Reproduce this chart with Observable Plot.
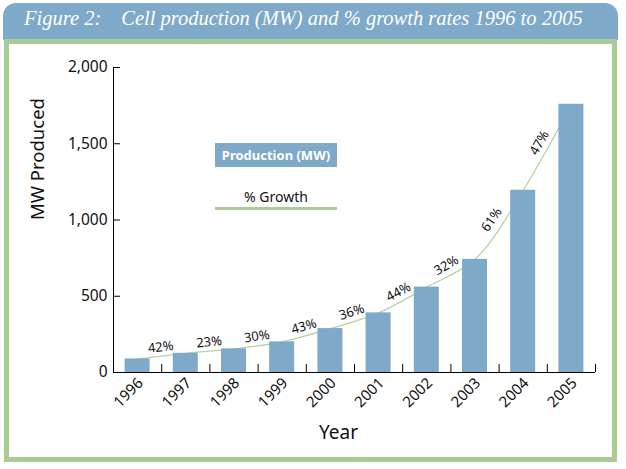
<!DOCTYPE html>
<html>
<head>
<meta charset="utf-8">
<script src="https://cdn.jsdelivr.net/npm/d3@7"></script>
<script src="https://cdn.jsdelivr.net/npm/@observablehq/plot@0.6"></script>
<style>
  html, body { margin: 0; padding: 0; background: #fff; }
  #wrap { position: relative; width: 626px; height: 469px; overflow: hidden; }
  #banner { position: absolute; left: 3px; top: 3px; width: 615px; height: 37px; background: #7ea9c9; border-radius: 13px 13px 0 0; }
  #title { position: absolute; left: 24px; top: 7px; font-family: "Liberation Serif", serif; font-style: italic; font-size: 20.5px; color: #fff; white-space: nowrap; }
  #title .gap { display: inline-block; width: 20px; }
  #frame { position: absolute; left: 4px; top: 39px; width: 613px; height: 423px; border: 5px solid #a9cb95; box-sizing: border-box; background: #fff; }
  #chart { position: absolute; left: 0; top: 0; }
  #legProd { position: absolute; left: 215px; top: 143px; width: 122px; height: 24px; background: #7ea9c9; color: #fff;
             font: bold 13px "Noto Sans", sans-serif; display: flex; align-items: center; justify-content: center; }
  #legGrowth { position: absolute; left: 215px; top: 187px; width: 122px; text-align: center; font: 14px "Noto Sans", sans-serif; color: #111; }
  #legLine { position: absolute; left: 215px; top: 207px; width: 122px; height: 3px; background: #a9cb95; }
</style>
</head>
<body>
<div id="wrap">
  <div id="banner"></div>
  <div id="title">Figure 2:<span class="gap"></span>Cell production (MW) and % growth rates 1996 to 2005</div>
  <div id="frame"></div>
  <div id="chart"></div>
  <div id="legProd">Production (MW)</div>
  <div id="legGrowth">% Growth</div>
  <div id="legLine"></div>
</div>
<script>
// ---- data ----
const years = [1996, 1997, 1998, 1999, 2000, 2001, 2002, 2003, 2004, 2005];
const production = [89, 126, 155, 201, 288, 391, 560, 742, 1195, 1759];
const growthLabels = ["42%", "23%", "30%", "43%", "36%", "44%", "32%", "61%", "47%"];
const yTicks = [0, 500, 1000, 1500, 2000];
const yLabel = "MW Produced";
const xLabel = "Year";

// ---- layout ----
const W = 626, H = 469, mL = 113, mR = 31, mT = 67, mB = 97;
const xDomain = [years[0] - 0.5, years[years.length - 1] + 0.5];
const yDomain = [0, 2000];
const xBoundaries = d3.range(years.length + 1).map(i => xDomain[0] + i);

const data = years.map((y, i) => ({year: y, mw: production[i]}));

const xs = Plot.scale({x: {type: "linear", domain: xDomain, range: [mL, W - mR]}});
const ys = Plot.scale({y: {type: "linear", domain: yDomain, range: [H - mB, mT]}});

// growth labels: placed between bars, above the line, rotated with its slope
const off = 9;
const labels = growthLabels.map((t, i) => {
  const x0 = xs.apply(years[i]), y0 = ys.apply(production[i]);
  const x1 = xs.apply(years[i + 1]), y1 = ys.apply(production[i + 1]);
  const a = Math.atan2(y1 - y0, x1 - x0);
  const mx = (x0 + x1) / 2, my = (y0 + y1) / 2;
  return {
    text: t,
    x: xs.invert(mx + off * Math.sin(a)),
    y: ys.invert(my - off * Math.cos(a)),
    angle: a * 180 / Math.PI
  };
});

const blue = "#7ea9c9";
const chart = Plot.plot({
  width: W, height: H,
  marginLeft: mL, marginRight: mR, marginTop: mT, marginBottom: mB,
  style: {background: "transparent", fontFamily: "Noto Sans, sans-serif", color: "#111", overflow: "visible"},
  x: {type: "linear", domain: xDomain, label: null},
  y: {domain: yDomain, label: null},
  marks: [
    Plot.line(data, {x: "year", y: "mw", curve: "catmull-rom", stroke: "#b3d49e", strokeWidth: 1.3}),
    Plot.rectY(data, {x1: d => d.year - 0.5, x2: d => d.year + 0.5, y: "mw", fill: blue, insetLeft: 11.6, insetRight: 11.6}),
    Plot.text(labels, {x: "x", y: "y", text: "text", rotate: "angle", fontSize: 13, fill: "#111"}),
    Plot.ruleY([0], {stroke: "#000"}),
    Plot.ruleX([xDomain[0]], {stroke: "#000"}),
    Plot.axisY({ticks: yTicks, tickSize: 0, tickPadding: 6, tickFormat: d3.format(","), fontSize: 15.5, label: null}),
    Plot.axisY({ticks: yTicks, tickSize: -7, fill: "none", stroke: "#000", label: null}),
    Plot.axisX({ticks: xBoundaries, tickSize: -8, fill: "none", stroke: "#000", label: null}),
    Plot.axisX({ticks: years, tickSize: 0, tickPadding: 8, tickRotate: -45, dx: 3, tickFormat: d => String(d), fontSize: 15, label: null}),
    Plot.text([yLabel], {frameAnchor: "left", dx: -75, rotate: -90, fontSize: 18.5, fill: "#111"}),
    Plot.text([xLabel], {frameAnchor: "bottom", dx: -16, dy: 66, fontSize: 19, fill: "#111"})
  ]
});
document.getElementById("chart").appendChild(chart);
</script>
</body>
</html>
